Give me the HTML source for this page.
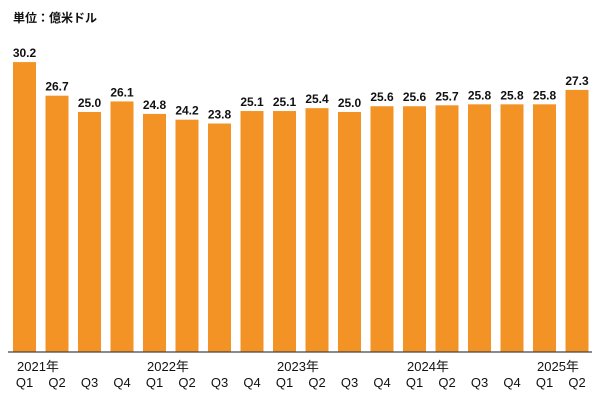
<!DOCTYPE html>
<html><head><meta charset="utf-8"><style>
body{margin:0;background:#fff}
svg text{font-family:"Liberation Sans","Noto Sans CJK JP",sans-serif}
</style></head><body>
<svg width="600" height="400" xmlns="http://www.w3.org/2000/svg">
<text x="13" y="22" font-size="12" font-weight="bold" fill="#111">単位：億米ドル</text>
<g id="bars"></g>
<line x1="8" x2="592" y1="352" y2="352" stroke="#444" stroke-width="1.2"/>
<g id="labels"></g>
</svg>
<script>
const quarters=["Q1","Q2","Q3","Q4","Q1","Q2","Q3","Q4","Q1","Q2","Q3","Q4","Q1","Q2","Q3","Q4","Q1","Q2"];
const years=["2021年","","","","2022年","","","","2023年","","","","2024年","","","","2025年",""];
const values=[30.2,26.7,25.0,26.1,24.8,24.2,23.8,25.1,25.1,25.4,25.0,25.6,25.6,25.7,25.8,25.8,25.8,27.3];
const NS="http://www.w3.org/2000/svg";
const base=352,scale=9.6,x0=24.5,step=32.5,bw=23;
const xc=i=>x0+i*step;
const y=v=>base-v*scale;
const gb=document.getElementById('bars'),gl=document.getElementById('labels');
values.forEach((v,i)=>{
  const r=document.createElementNS(NS,'rect');
  r.setAttribute('x',xc(i)-bw/2);r.setAttribute('y',y(v));
  r.setAttribute('width',bw);r.setAttribute('height',base-y(v));
  r.setAttribute('fill','#f39325');
  
  
  gb.appendChild(r);
  const t=document.createElementNS(NS,'text');
  t.setAttribute('x',xc(i));t.setAttribute('y',y(v)-5);
  t.setAttribute('text-anchor','middle');t.setAttribute('font-size','12');
  t.setAttribute('font-weight','bold');t.setAttribute('fill','#111');
  t.textContent=v.toFixed(1);
  
  
  gl.appendChild(t);
  const q=document.createElementNS(NS,'text');
  q.setAttribute('x',xc(i));q.setAttribute('y',387);
  q.setAttribute('text-anchor','middle');q.setAttribute('font-size','13');q.setAttribute('fill','#111');
  q.textContent=quarters[i];
  
  
  gl.appendChild(q);
  if(years[i]){
    const yt=document.createElementNS(NS,'text');
    yt.setAttribute('x',xc(i)-7.5);yt.setAttribute('y',371);
    yt.setAttribute('font-size','13');yt.setAttribute('fill','#111');
    yt.textContent=years[i];
    
    
    gl.appendChild(yt);
  }
});
</script>
</body></html>
